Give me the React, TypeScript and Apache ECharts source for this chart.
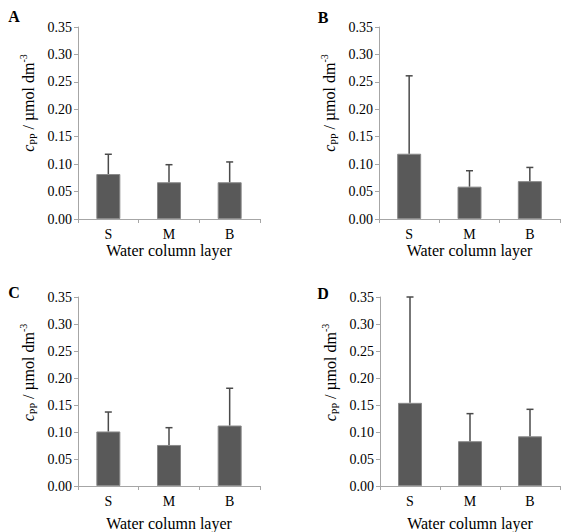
import React, { useEffect, useRef } from "react";
import * as echarts from "echarts";

const categories = ["S", "M", "B"];
const panelLetters = ["A", "B", "C", "D"];
const meanA = [0.082, 0.067, 0.067];
const sdA = [0.036, 0.032, 0.037];
const meanB = [0.119, 0.059, 0.069];
const sdB = [0.142, 0.029, 0.025];
const meanC = [0.101, 0.076, 0.112];
const sdC = [0.036, 0.032, 0.069];
const meanD = [0.154, 0.083, 0.092];
const sdD = [0.196, 0.051, 0.05];
const yMin = 0;
const yMax = 0.35;
const yInterval = 0.05;
const xTitle = "Water column layer";

const means = [meanA, meanB, meanC, meanD];
const sds = [sdA, sdB, sdC, sdD];

const grids = [
  { left: 78, top: 27, width: 182, height: 192, nameGap: 23 },
  { left: 379, top: 27, width: 181, height: 192, nameGap: 23 },
  { left: 78, top: 297, width: 182, height: 191, nameGap: 29 },
  { left: 380, top: 297, width: 180, height: 191, nameGap: 29 },
];
const letterPos = [
  [14, 16],
  [323, 17],
  [14, 292],
  [323, 293],
];

const FONT = "Liberation Serif";
const AXIS_COLOR = "#a6a6a6";
const BAR_COLOR = "#595959";
const ERR_COLOR = "#4a4a4a";

export default function App() {
  const ref = useRef<HTMLDivElement>(null);
  useEffect(() => {
    if (!ref.current) return;
    const chart = echarts.init(ref.current, undefined, { renderer: "svg" });
    const option: any = {
      animation: false,
      backgroundColor: "#ffffff",
      textStyle: { fontFamily: FONT },
      grid: grids.map((g) => ({ left: g.left, top: g.top, width: g.width, height: g.height, containLabel: false })),
      xAxis: grids.map((g, i) => ({
        type: "category",
        gridIndex: i,
        data: categories,
        name: xTitle,
        nameLocation: "middle",
        nameGap: g.nameGap,
        nameTextStyle: { fontFamily: FONT, fontSize: 16, color: "#000" },
        axisLine: { show: true, lineStyle: { color: AXIS_COLOR, width: 1 } },
        axisTick: { show: true, length: 4, lineStyle: { color: AXIS_COLOR } },
        axisLabel: { fontFamily: FONT, fontSize: 14, color: "#000", margin: 8 },
        splitLine: { show: false },
      })),
      yAxis: grids.map((g, i) => ({
        type: "value",
        gridIndex: i,
        min: yMin,
        max: yMax,
        interval: yInterval,
        axisLine: { show: true, lineStyle: { color: AXIS_COLOR, width: 1 } },
        axisTick: { show: true, length: 4, inside: false, lineStyle: { color: AXIS_COLOR } },
        axisLabel: {
          fontFamily: FONT,
          fontSize: 14,
          color: "#000",
          margin: 6,
          formatter: (v: number) => v.toFixed(2),
        },
        splitLine: { show: false },
      })),
      series: [
        ...means.map((m, i) => ({
          type: "bar",
          xAxisIndex: i,
          yAxisIndex: i,
          data: m,
          barWidth: 24,
          itemStyle: { color: BAR_COLOR, borderColor: "#8a8a8a", borderWidth: 1 },
          z: 2,
        })),
        ...means.map((m, i) => ({
          type: "custom",
          xAxisIndex: i,
          yAxisIndex: i,
          z: 3,
          data: m.map((v, k) => [k, v, sds[i][k]]),
          encode: { x: 0, y: 1 },
          renderItem: (params: any, api: any) => {
            const idx = api.value(0);
            const mv = api.value(1);
            const sv = api.value(2);
            const p0 = api.coord([idx, mv]);
            const p1 = api.coord([idx, mv + sv]);
            return {
              type: "group",
              children: [
                {
                  type: "line",
                  shape: { x1: p0[0], y1: p0[1], x2: p1[0], y2: p1[1] },
                  style: { stroke: ERR_COLOR, lineWidth: 1.5 },
                },
                {
                  type: "line",
                  shape: { x1: p1[0] - 3.5, y1: p1[1], x2: p1[0] + 3.5, y2: p1[1] },
                  style: { stroke: ERR_COLOR, lineWidth: 1.5 },
                },
              ],
            };
          },
        })),
      ],
      graphic: [
        ...panelLetters.map((t, i) => ({
          type: "text",
          x: letterPos[i][0],
          y: letterPos[i][1],
          style: {
            text: t,
            fontFamily: FONT,
            fontSize: 16,
            fontWeight: "bold",
            fill: "#000",
            align: "center",
            verticalAlign: "middle",
          },
        })),
        ...grids.map((g) => ({
          type: "text",
          x: g.left - 50,
          y: g.top + g.height / 2 - 20,
          rotation: Math.PI / 2,
          style: {
            text: "{i|c}{sub|PP}{n| / µmol dm}{sup|-3}",
            align: "center",
            verticalAlign: "middle",
            fill: "#000",
            fontFamily: FONT,
            fontSize: 16,
            rich: {
              i: { fontFamily: FONT, fontSize: 16, fontStyle: "italic", lineHeight: 20, fill: "#000" },
              sub: { fontFamily: FONT, fontSize: 10, lineHeight: 10, verticalAlign: "bottom", fill: "#000" },
              n: { fontFamily: FONT, fontSize: 16, lineHeight: 20, fill: "#000" },
              sup: { fontFamily: FONT, fontSize: 10, lineHeight: 10, verticalAlign: "top", fill: "#000" },
            },
          },
        })),
      ],
    };
    chart.setOption(option);
    return () => chart.dispose();
  }, []);
  return (
    <div
      ref={ref}
      style={{ position: "absolute", left: 0, top: 0, width: 561, height: 532 }}
    />
  );
}
